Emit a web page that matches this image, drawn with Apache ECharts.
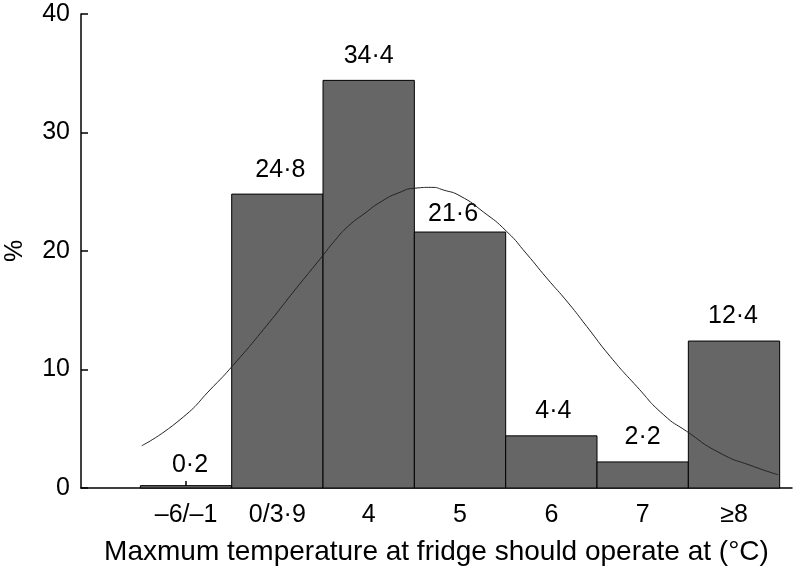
<!DOCTYPE html>
<html>
<head>
<meta charset="utf-8">
<script src="https://cdn.jsdelivr.net/npm/echarts@6/dist/echarts.min.js"></script>
<style>
html,body{margin:0;padding:0;background:#fff;}
#chart{width:794px;height:570px;}
</style>
</head>
<body>
<div id="chart"></div>
<script>
// Categories (bar positions are index 0..6 on the x value axis)
var categories = ['\u20136/\u20131', '0/3\u00b79', '4', '5', '6', '7', '\u22658'];
var percents = [0.2, 24.8, 34.4, 21.6, 4.4, 2.2, 12.4];
var valueLabels = ['0\u00b72', '24\u00b78', '34\u00b74', '21\u00b76', '4\u00b74', '2\u00b72', '12\u00b74'];
// Normal curve (x in category index units, y in %)
var curveX = [-0.485, -0.066, 0.299, 0.511, 0.846, 1.212, 1.486, 1.631, 1.777, 1.960, 2.143, 2.325, 2.507, 2.690, 2.817, 3.000, 3.255, 3.511, 3.730, 3.949, 4.186, 4.387, 4.643, 4.935, 5.226, 5.482, 5.847, 6.212, 6.485];
var curveY = [3.57, 5.76, 8.57, 10.32, 13.36, 16.9, 19.5, 20.9, 22.1, 23.2, 24.2, 24.9, 25.3, 25.37, 25.15, 24.65, 23.3, 21.65, 19.75, 17.72, 15.61, 13.64, 11.11, 8.57, 6.20, 4.78, 2.95, 1.82, 1.12];
var yTicks = [0, 10, 20, 30, 40];

var FONT = 'Liberation Sans, Arial, Helvetica, sans-serif';
var FS = 25;
var FS_NAME = 28;
// label placement tweaks (style only): [dx, gap above bar]
var labelAdjust = [[4, 8], [3, 12], [0, 12], [-7, 5], [2, 12], [0, 12], [-1, 12]];

var barData = percents.map(function (v, i) { return [i, v]; });
var lineData = curveX.map(function (x, i) { return [x, curveY[i]]; });

var chart = echarts.init(document.getElementById('chart'), null, {renderer: 'canvas'});
chart.setOption({
  animation: false,
  backgroundColor: '#fff',
  grid: {left: 81, right: 2, top: 14, bottom: 82, containLabel: false, outerBoundsMode: 'none'},
  xAxis: {
    type: 'value',
    min: -1.15,
    max: 6.635,
    name: 'Maxmum temperature at fridge should operate at (\u00b0C)',
    nameLocation: 'middle',
    nameGap: 50,
    nameTextStyle: {fontFamily: FONT, fontSize: FS_NAME, color: '#000'},
    axisLine: {show: true, onZero: false, lineStyle: {color: '#000', width: 1.5}},
    axisTick: {show: true, inside: true, length: 7, lineStyle: {color: '#000', width: 1.5}, customValues: [0, 1, 2, 3, 4, 5, 6]},
    axisLabel: {
      show: true, margin: 15, fontFamily: FONT, fontSize: FS, color: '#000',
      customValues: [0, 1, 2, 3, 4, 5, 6],
      formatter: function (v) { return categories[Math.round(v)] || ''; }
    },
    splitLine: {show: false}
  },
  yAxis: {
    type: 'value',
    min: 0,
    max: 40,
    interval: 10,
    name: '%',
    nameLocation: 'middle',
    nameGap: 53,
    nameRotate: 90,
    nameTextStyle: {fontFamily: FONT, fontSize: FS, color: '#000'},
    axisLine: {show: true, onZero: false, lineStyle: {color: '#000', width: 1.5}},
    axisTick: {show: true, inside: true, length: 7, lineStyle: {color: '#000', width: 1.5}},
    axisLabel: {margin: 11, fontFamily: FONT, fontSize: FS, color: '#000',
      formatter: function (v) { return yTicks.indexOf(v) >= 0 ? String(v) : ''; }},
    splitLine: {show: false}
  },
  series: [
    {
      type: 'custom',
      data: barData,
      z: 2,
      renderItem: function (params, api) {
        var i = api.value(0);
        var v = api.value(1);
        var p0 = api.coord([i - 0.5, 0]);
        var p1 = api.coord([i + 0.5, v]);
        var adj = labelAdjust[params.dataIndex];
        return {
          type: 'group',
          children: [
            {
              type: 'rect',
              shape: {x: p0[0], y: p1[1], width: p1[0] - p0[0], height: p0[1] - p1[1]},
              style: {fill: '#666666', stroke: '#000', lineWidth: 1}
            },
            {
              type: 'text',
              style: {
                text: valueLabels[params.dataIndex],
                x: (p0[0] + p1[0]) / 2 + adj[0],
                y: p1[1] - adj[1],
                align: 'center',
                verticalAlign: 'bottom',
                font: FS + 'px ' + FONT,
                fill: '#000'
              }
            }
          ]
        };
      }
    },
    {
      type: 'line',
      data: lineData,
      smooth: 0.6,
      symbol: 'none',
      z: 3,
      lineStyle: {color: '#222', width: 1}
    }
  ]
});
</script>
</body>
</html>
